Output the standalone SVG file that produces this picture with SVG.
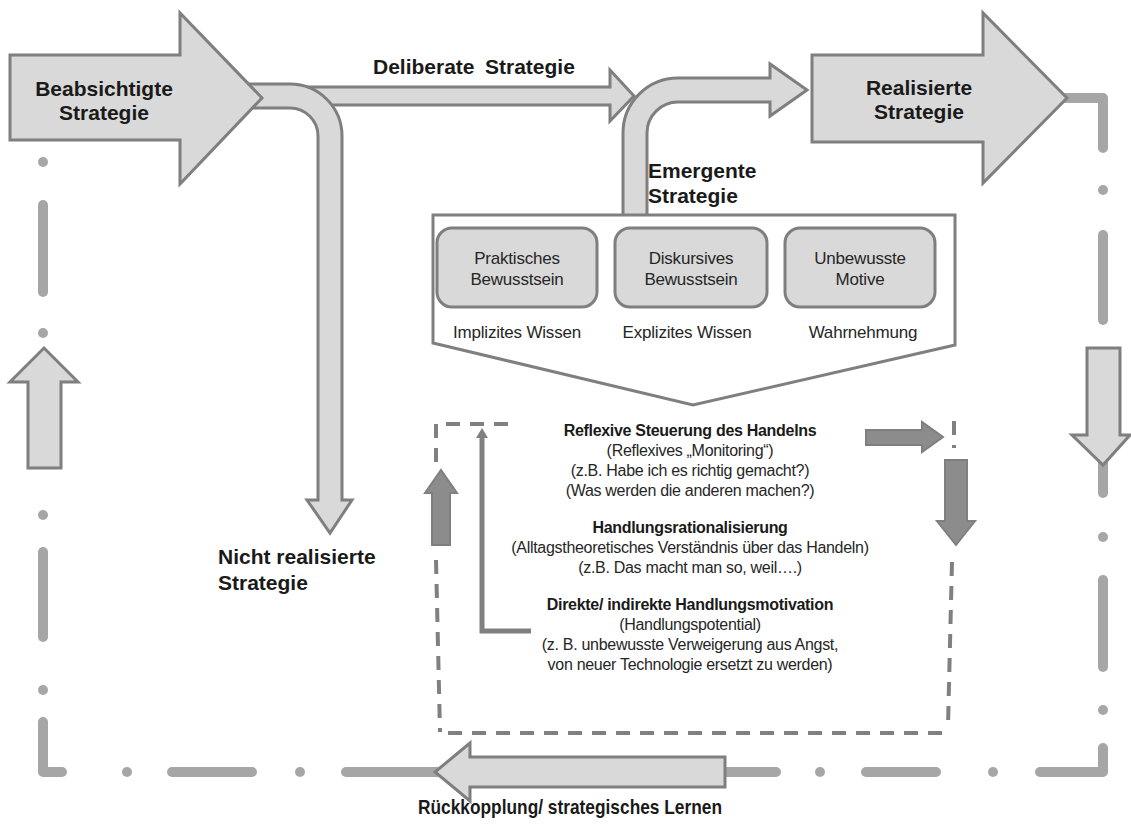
<svg xmlns="http://www.w3.org/2000/svg" width="1131" height="827" viewBox="0 0 1131 827">
  <style>
    .blk { fill: #d9d9d9; stroke: #7f7f7f; stroke-width: 3; stroke-linejoin: miter; }
    .dark { fill: #8c8c8c; stroke: #7f7f7f; stroke-width: 2; }
    .frame { fill: none; stroke: #a6a6a6; stroke-width: 10; stroke-linecap: round; stroke-linejoin: round; }
    .dot { fill: #a6a6a6; }
    .dash { fill: none; stroke: #808080; stroke-width: 4; stroke-dasharray: 14 10; }
    .h { font-family: "Liberation Sans", Arial, sans-serif; font-weight: bold; font-size: 21px; fill: #1a1a1a; }
    .r { font-family: "Liberation Sans", Arial, sans-serif; font-size: 17px; fill: #262626; text-anchor: middle; letter-spacing: -0.2px; }
    .t { font-family: "Liberation Sans", Arial, sans-serif; font-size: 16px; fill: #262626; text-anchor: middle; letter-spacing: -0.3px; }
    .tb { font-family: "Liberation Sans", Arial, sans-serif; font-size: 16px; font-weight: bold; fill: #1a1a1a; text-anchor: middle; letter-spacing: -0.3px; }
  </style>
  <rect width="1131" height="827" fill="#ffffff"/>

  <!-- feedback frame: dash-dot loop -->
  <g id="feedback-frame">
    <!-- left side -->
    <circle class="dot" cx="43" cy="162" r="5"/>
    <line class="frame" x1="43" y1="205" x2="43" y2="292"/>
    <circle class="dot" cx="43" cy="333" r="5"/>
    <circle class="dot" cx="43" cy="515" r="5"/>
    <line class="frame" x1="43" y1="552" x2="43" y2="637"/>
    <circle class="dot" cx="43" cy="690" r="5"/>
    <polyline class="frame" points="43,722 43,772 62,772"/>
    <!-- bottom side -->
    <circle class="dot" cx="127" cy="772" r="5"/>
    <line class="frame" x1="172" y1="772" x2="252" y2="772"/>
    <circle class="dot" cx="300" cy="772" r="5"/>
    <line class="frame" x1="346" y1="772" x2="440" y2="772"/>
    <line class="frame" x1="720" y1="772" x2="776" y2="772"/>
    <circle class="dot" cx="820" cy="772" r="5"/>
    <line class="frame" x1="866" y1="772" x2="936" y2="772"/>
    <circle class="dot" cx="993" cy="772" r="5"/>
    <polyline class="frame" points="1040,772 1103,772 1103,748"/>
    <!-- right side -->
    <circle class="dot" cx="1103" cy="710" r="5"/>
    <line class="frame" x1="1103" y1="580" x2="1103" y2="667"/>
    <circle class="dot" cx="1103" cy="537" r="5"/>
    <line class="frame" x1="1103" y1="460" x2="1103" y2="493"/>
    <line class="frame" x1="1103" y1="235" x2="1103" y2="320"/>
    <circle class="dot" cx="1103" cy="190" r="5"/>
    <polyline class="frame" points="1064,98 1103,98 1103,148"/>
  </g>

  <!-- connectors -->
  <g id="connectors">
    <!-- Deliberate Strategie -->
    <path class="blk" d="M300,87 L610,87 L610,70 L634,96 L610,121 L610,105 L300,105 Z"/>
    <!-- bent arrow to Nicht realisierte Strategie -->
    <path class="blk" d="M250,84 L290,84 A52,52 0 0 1 342,136 L342,500 L352,500 L330,533 L307,500 L318,500 L318,136 A28,28 0 0 0 290,108 L250,108 Z"/>
    <!-- emergent strategy rising into Realisierte Strategie -->
    <path class="blk" d="M623,216 L623,133 A55,55 0 0 1 678,78 L770,78 L770,64 L807,90 L770,116 L770,102 L678,102 A31,31 0 0 0 647,133 L647,216 Z"/>
    <!-- frame arrows -->
    <path class="blk" d="M28,468 L28,382 L10,382 L44,348 L78,382 L61,382 L61,468 Z"/>
    <path class="blk" d="M1087,348 L1120,348 L1120,435 L1130,435 L1103,465 L1072,435 L1087,435 Z"/>
    <path class="blk" d="M725,757 L725,787 L470,787 L470,801 L435,772 L470,743 L470,757 Z"/>
  </g>

  <!-- intended strategy -->
  <g id="node-beabsichtigt">
    <path class="blk" d="M10,55 L180,55 L180,13 L262,98 L180,184 L180,140 L10,140 Z"/>
    <text class="h" x="104" y="96" text-anchor="middle">Beabsichtigte</text>
    <text class="h" x="104" y="120" text-anchor="middle">Strategie</text>
  </g>

  <!-- realised strategy -->
  <g id="node-realisiert">
    <path class="blk" d="M812,55 L983,55 L983,13 L1067,98 L983,183 L983,142 L812,142 Z"/>
    <text class="h" x="919" y="95" text-anchor="middle">Realisierte</text>
    <text class="h" x="919" y="119" text-anchor="middle">Strategie</text>
  </g>

  <g id="label-deliberate">
    <text class="h" y="74"><tspan x="373">Deliberate</tspan><tspan x="485">Strategie</tspan></text>
  </g>
  <g id="label-emergent">
    <text class="h" x="648" y="178">Emergente</text>
    <text class="h" x="648" y="203">Strategie</text>
  </g>
  <g id="label-nicht">
    <text class="h" x="218" y="564">Nicht realisierte</text>
    <text class="h" x="218" y="590">Strategie</text>
  </g>
  <g id="label-feedback">
    <text class="h" x="418" y="814" font-size="20" textLength="304" lengthAdjust="spacingAndGlyphs">Rückkopplung/ strategisches Lernen</text>
  </g>

  <!-- consciousness funnel -->
  <g id="node-bewusstsein">
    <path d="M433,215 L955,215 L955,345 L693,405 L433,343 Z" fill="#ffffff" stroke="#7f7f7f" stroke-width="3"/>
    <g id="node-praktisch">
      <rect class="blk" x="437" y="228" width="160" height="79" rx="15" stroke-width="4"/>
      <text class="r" x="517" y="264">Praktisches</text>
      <text class="r" x="517" y="285">Bewusstsein</text>
      <text class="r" x="517" y="338">Implizites Wissen</text>
    </g>
    <g id="node-diskursiv">
      <rect class="blk" x="615" y="228" width="152" height="79" rx="15" stroke-width="4"/>
      <text class="r" x="691" y="264">Diskursives</text>
      <text class="r" x="691" y="285">Bewusstsein</text>
      <text class="r" x="687" y="338">Explizites Wissen</text>
    </g>
    <g id="node-unbewusst">
      <rect class="blk" x="785" y="228" width="150" height="79" rx="15" stroke-width="4"/>
      <text class="r" x="860" y="264">Unbewusste</text>
      <text class="r" x="860" y="285">Motive</text>
      <text class="r" x="863" y="338">Wahrnehmung</text>
    </g>
  </g>

  <!-- action stratification loop -->
  <g id="node-handeln">
    <path class="dash" d="M436,462 L436,424 L510,424"/>
    <path class="dash" d="M436,560 L440,732"/>
    <path class="dash" d="M448,733 L948,733"/>
    <path class="dash" d="M954,421 L954,448"/>
    <path class="dash" d="M952,562 L948,726"/>
    <!-- inner cycle arrows -->
    <path class="dark" d="M866,430 L922,430 L922,422 L943,437 L922,452 L922,445 L866,445 Z"/>
    <path class="dark" d="M945,460 L967,460 L967,521 L975,521 L956,545 L937,521 L945,521 Z"/>
    <path class="dark" d="M432,545 L432,493 L425,493 L441,470 L457,493 L450,493 L450,545 Z"/>
    <polyline points="482,436 482,631 531,631" fill="none" stroke="#808080" stroke-width="5"/>
    <path d="M476,438 L482,428 L488,438 Z" fill="#808080"/>

    <text class="tb" x="690" y="436">Reflexive Steuerung des Handelns</text>
    <text class="t" x="690" y="456">(Reflexives „Monitoring“)</text>
    <text class="t" x="690" y="476">(z.B.  Habe ich es richtig gemacht?)</text>
    <text class="t" x="690" y="496">(Was werden die anderen machen?)</text>
    <text class="tb" x="690" y="533">Handlungsrationalisierung</text>
    <text class="t" x="690" y="553">(Alltagstheoretisches Verständnis über das Handeln)</text>
    <text class="t" x="690" y="573">(z.B.  Das macht man so, weil….)</text>
    <text class="tb" x="690" y="610">Direkte/ indirekte Handlungsmotivation</text>
    <text class="t" x="690" y="630">(Handlungspotential)</text>
    <text class="t" x="690" y="650">(z.  B. unbewusste Verweigerung aus Angst,</text>
    <text class="t" x="690" y="670">von neuer Technologie ersetzt zu werden)</text>
  </g>
</svg>
